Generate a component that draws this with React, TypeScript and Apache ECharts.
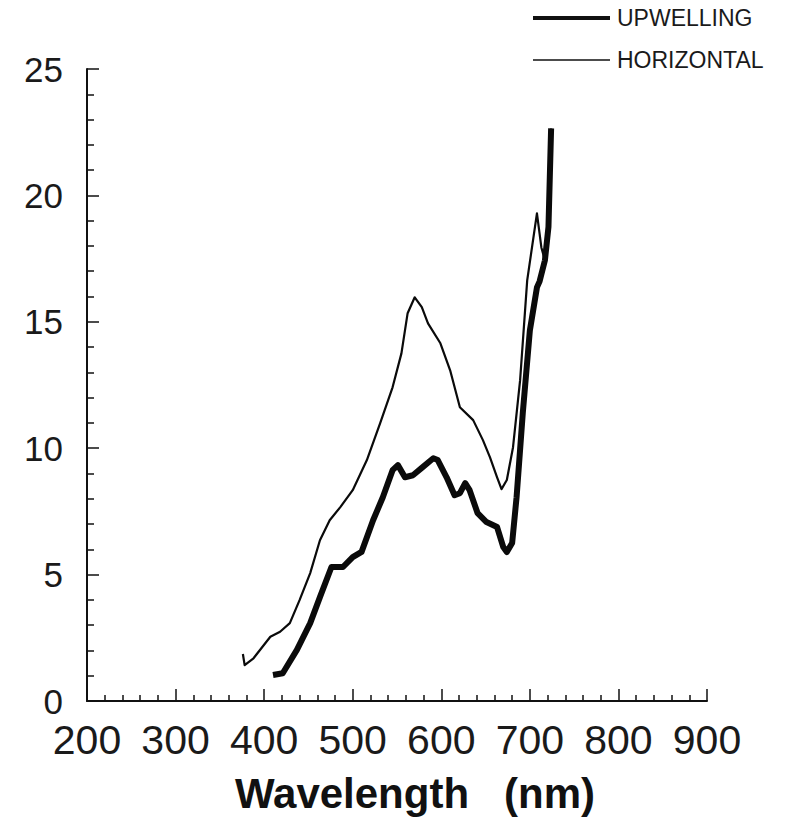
import React, { useEffect, useRef } from "react";
import * as echarts from "echarts";

// Upwelling (thick line)
const upWavelength = [410, 421, 437, 452, 463, 476, 489, 500, 510, 523, 534, 545, 551, 559, 568, 579, 591, 596, 606, 615, 621, 627, 632, 641, 651, 663, 670, 674, 680, 685, 692, 700, 708, 711, 717, 721, 724];
const upValues = [1.03, 1.1, 2.02, 3.08, 4.11, 5.3, 5.3, 5.69, 5.9, 7.15, 8.06, 9.13, 9.33, 8.85, 8.93, 9.25, 9.6, 9.53, 8.85, 8.14, 8.22, 8.62, 8.34, 7.43, 7.08, 6.88, 6.09, 5.89, 6.25, 8.06, 11.38, 14.66, 16.36, 16.6, 17.43, 18.75, 22.65];

// Horizontal (thin line)
const horWavelength = [376, 378, 388, 407, 418, 429, 440, 452, 463, 474, 486, 500, 516, 531, 545, 555, 562, 570, 578, 585, 599, 610, 621, 636, 647, 655, 663, 668, 674, 681, 689, 697, 708, 713, 717, 721, 724];
const horValues = [1.86, 1.42, 1.69, 2.54, 2.74, 3.08, 3.99, 5.06, 6.36, 7.15, 7.67, 8.34, 9.53, 10.99, 12.41, 13.75, 15.34, 15.97, 15.58, 14.94, 14.15, 13.08, 11.62, 11.11, 10.32, 9.64, 8.85, 8.38, 8.74, 10.04, 12.69, 16.64, 19.29, 17.94, 17.43, 18.74, 22.65];

const seriesNames = ["UPWELLING", "HORIZONTAL"];
const xTitle = "Wavelength   (nm)";

const FONT = "'Liberation Sans', Arial, Helvetica, sans-serif";

export default function App() {
  const ref = useRef<HTMLDivElement>(null);
  useEffect(() => {
    if (!ref.current) return;
    const chart = echarts.init(ref.current, undefined, { renderer: "svg" });
    const pair = (xs: number[], ys: number[]) => xs.map((x, i) => [x, ys[i]]);
    chart.setOption({
      animation: false,
      backgroundColor: "#ffffff",
      grid: { left: 87, right: 96, top: 69, bottom: 122, containLabel: false },
      xAxis: {
        type: "value",
        min: 200,
        max: 900,
        interval: 100,
        axisLine: { show: true, onZero: false, lineStyle: { color: "#111", width: 2 } },
        axisTick: { show: true, inside: true, length: 12, lineStyle: { color: "#111", width: 1.5 } },
        minorTick: { show: true, splitNumber: 5, length: 6, lineStyle: { color: "#111", width: 1.5 } },
        splitLine: { show: false },
        axisLabel: {
          show: true,
          margin: 23,
          fontFamily: FONT,
          fontSize: 41,
          lineHeight: 32,
          color: "#1a1a1a",
          showMinLabel: true,
          showMaxLabel: true,
        },
      },
      yAxis: {
        type: "value",
        min: 0,
        max: 25,
        interval: 5,
        axisLine: { show: true, onZero: false, lineStyle: { color: "#111", width: 2 } },
        axisTick: { show: true, inside: true, length: 12, lineStyle: { color: "#111", width: 1.5 } },
        minorTick: { show: true, splitNumber: 5, length: 7, lineStyle: { color: "#111", width: 1.5 } },
        splitLine: { show: false },
        axisLabel: {
          show: true,
          margin: 24,
          fontFamily: FONT,
          fontSize: 35,
          lineHeight: 26,
          color: "#1a1a1a",
        },
      },
      series: [
        {
          name: seriesNames[0],
          type: "line",
          data: pair(upWavelength, upValues),
          showSymbol: false,
          symbol: "none",
          lineStyle: { color: "#0a0a0a", width: 6, join: "round", cap: "butt" },
          z: 3,
        },
        {
          name: seriesNames[1],
          type: "line",
          data: pair(horWavelength, horValues),
          showSymbol: false,
          symbol: "none",
          lineStyle: { color: "#0a0a0a", width: 2.2, join: "round" },
          z: 2,
        },
      ],
      graphic: [
        { type: "line", shape: { x1: 533, y1: 18, x2: 610, y2: 18 }, style: { stroke: "#111", lineWidth: 4 } },
        {
          type: "text",
          x: 617,
          y: 18,
          style: { text: seriesNames[0], fontFamily: FONT, fontSize: 23, fill: "#1a1a1a", verticalAlign: "middle", align: "left" },
        },
        { type: "line", shape: { x1: 533, y1: 60, x2: 610, y2: 60 }, style: { stroke: "#111", lineWidth: 1.5 } },
        {
          type: "text",
          x: 617,
          y: 60,
          style: { text: seriesNames[1], fontFamily: FONT, fontSize: 23, fill: "#1a1a1a", verticalAlign: "middle", align: "left" },
        },
        {
          type: "text",
          x: 415,
          y: 793,
          style: { text: xTitle, fontFamily: FONT, fontSize: 42, fontWeight: "bold", fill: "#111", verticalAlign: "middle", align: "center" },
        },
      ],
    });
    return () => chart.dispose();
  }, []);
  return <div ref={ref} style={{ width: 803, height: 823, position: "absolute", left: 0, top: 0 }} />;
}
